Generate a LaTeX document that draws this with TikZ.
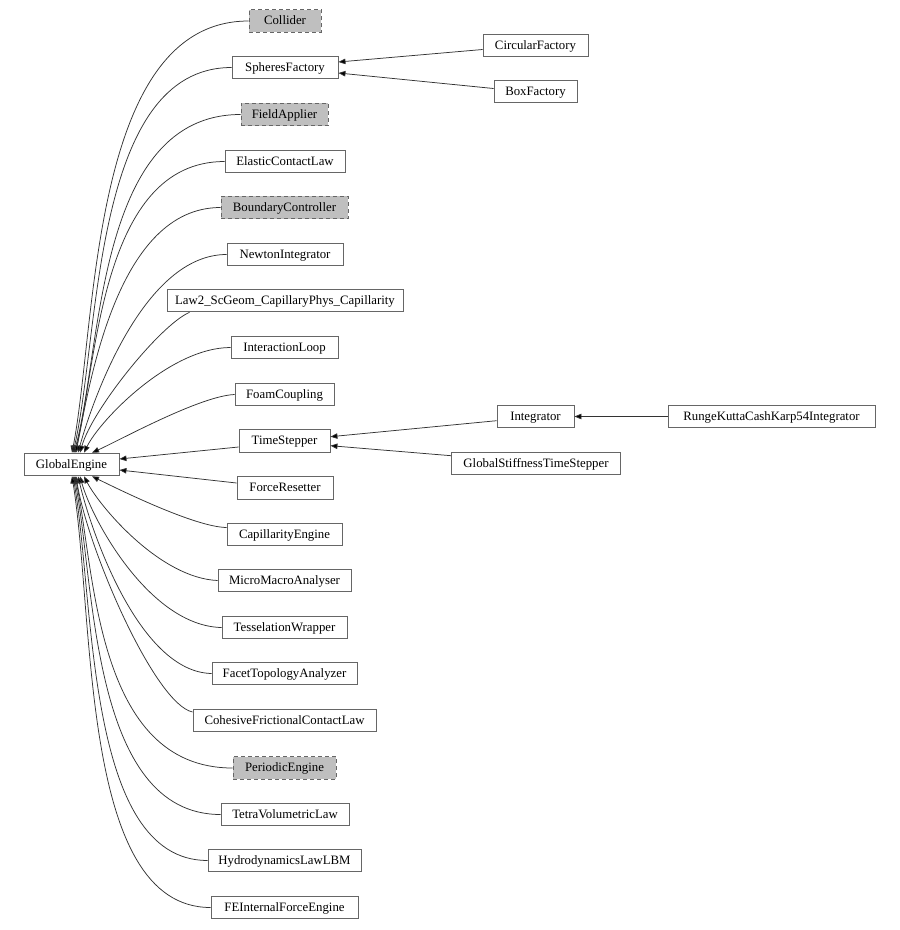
\documentclass[tikz,border=0pt]{standalone}
\usepackage{fontspec}
\setmainfont{Liberation Serif}
\usetikzlibrary{arrows.meta}
\definecolor{bordergray}{HTML}{666666}
\definecolor{fillgray}{HTML}{BFBFBF}
\definecolor{edgegray}{HTML}{333333}
\tikzset{
  cls/.style={draw=bordergray, line width=0.9pt, fill=white, minimum height=22.7pt,
    inner xsep=2pt, inner ysep=1pt, text height=8.4pt, text depth=0.6pt,
    font=\fontsize{12.8}{14}\selectfont, text=black},
  abs/.style={cls, fill=fillgray, dashed, dash pattern=on 4pt off 3pt},
  edge/.style={draw=edgegray, line width=0.75pt, -{Triangle[length=7pt,width=5.5pt,fill=black]}},
}
\begin{document}
\begin{tikzpicture}[x=1pt,y=-1pt]
\useasboundingbox (0,0) rectangle (900,930);
% nodes
\node[abs, minimum width=72pt] (col) at (285,21) {Collider};
\node[cls, minimum width=106pt] (sph) at (285,67.5) {SpheresFactory};
\node[abs, minimum width=87pt] (fa) at (284.5,114.5) {FieldApplier};
\node[cls, minimum width=120pt] (ecl) at (285,161.5) {ElasticContactLaw};
\node[abs, minimum width=127pt] (bc) at (284.5,207.5) {BoundaryController};
\node[cls, minimum width=116pt] (ni) at (285,254.5) {NewtonIntegrator};
\node[cls, minimum width=236pt] (law) at (285,300.5) {Law2\_ScGeom\_CapillaryPhys\_Capillarity};
\node[cls, minimum width=107pt] (il) at (284.5,347.5) {InteractionLoop};
\node[cls, minimum width=99pt] (fc) at (284.5,394.5) {FoamCoupling};
\node[cls, minimum width=91pt] (ts) at (284.5,441) {TimeStepper};
\node[cls, minimum width=96pt] (fr) at (285,488) {ForceResetter};
\node[cls, minimum width=115pt] (ce) at (284.5,534.5) {CapillarityEngine};
\node[cls, minimum width=133pt] (mma) at (284.5,580.5) {MicroMacroAnalyser};
\node[cls, minimum width=125pt] (tw) at (284.5,627.5) {TesselationWrapper};
\node[cls, minimum width=145pt] (fta) at (284.5,673.5) {FacetTopologyAnalyzer};
\node[cls, minimum width=183pt] (cfcl) at (284.5,720.5) {CohesiveFrictionalContactLaw};
\node[abs, minimum width=103pt] (pe) at (284.5,768) {PeriodicEngine};
\node[cls, minimum width=128pt] (tvl) at (285,814.5) {TetraVolumetricLaw};
\node[cls, minimum width=153pt] (hl) at (284.5,860.5) {HydrodynamicsLawLBM};
\node[cls, minimum width=147pt] (fe) at (284.5,907.5) {FEInternalForceEngine};
\node[cls, minimum width=95pt] (ge) at (71.5,464.5) {GlobalEngine};
\node[cls, minimum width=105pt] (circ) at (535.5,45.5) {CircularFactory};
\node[cls, minimum width=83pt] (boxf) at (535.5,91.5) {BoxFactory};
\node[cls, minimum width=77pt] (int) at (535.5,416.5) {Integrator};
\node[cls, minimum width=169pt] (gsts) at (536,463.5) {GlobalStiffnessTimeStepper};
\node[cls, minimum width=207pt] (rk) at (771.5,416.5) {RungeKuttaCashKarp54Integrator};
% straight edges
\draw[edge] ([yshift=-4pt]circ.west) -- ([yshift=5.5pt]sph.east);
\draw[edge] ([yshift=3pt]boxf.west) -- ([yshift=-5.5pt]sph.east);
\draw[edge] (rk.west) -- (int.east);
\draw[edge] ([yshift=-4.2pt]int.west) -- ([yshift=4.3pt]ts.east);
\draw[edge] ([yshift=7.8pt]gsts.west) -- ([yshift=-4.7pt]ts.east);
\draw[edge] ([yshift=-6pt]ts.west) -- ([yshift=5.5pt]ge.east);
\draw[edge] ([yshift=5pt]fr.west) -- ([yshift=-5.5pt]ge.east);
% curved edges to the top of GlobalEngine
\draw[edge] (col.west) .. controls (90,21) and (97,323) .. ([xshift=0.5pt]ge.north);
\draw[edge] (sph.west) .. controls (92,67.5) and (100,337) .. ([xshift=1.5pt]ge.north);
\draw[edge] (fa.west) .. controls (96,114.5) and (102,350) .. ([xshift=2.5pt]ge.north);
\draw[edge] (ecl.west) .. controls (100,161.5) and (97,365) .. ([xshift=3.5pt]ge.north);
\draw[edge] (bc.west) .. controls (118,207.5) and (90,380) .. ([xshift=4.5pt]ge.north);
\draw[edge] (ni.west) .. controls (145,254.5) and (94,395) .. ([xshift=6.5pt]ge.north);
\draw[edge] ([xshift=23pt]law.south west) .. controls (160,325) and (92,410) .. ([xshift=8.5pt]ge.north);
\draw[edge] (il.west) .. controls (170,347.5) and (100,420) .. ([xshift=12.5pt]ge.north);
\draw[edge] (fc.west) .. controls (200,396) and (120,440) .. ([xshift=20.5pt]ge.north);
% curved edges to the bottom of GlobalEngine
\draw[edge] ([yshift=7pt]ce.west) .. controls (195,527) and (120,490) .. ([xshift=20.5pt]ge.south);
\draw[edge] (mma.west) .. controls (160,578) and (100,507) .. ([xshift=12.5pt]ge.south);
\draw[edge] (tw.west) .. controls (150,626) and (92,520) .. ([xshift=8.5pt]ge.south);
\draw[edge] (fta.west) .. controls (140,672) and (92,535) .. ([xshift=6.5pt]ge.south);
\draw[edge] ([yshift=8.5pt]cfcl.west) .. controls (155,704) and (88,550) .. ([xshift=4.5pt]ge.south);
\draw[edge] (pe.west) .. controls (95,768) and (95,570) .. ([xshift=3.5pt]ge.south);
\draw[edge] (tvl.west) .. controls (90,814.5) and (95,580) .. ([xshift=2.5pt]ge.south);
\draw[edge] (hl.west) .. controls (85,860.5) and (95,600) .. ([xshift=1.5pt]ge.south);
\draw[edge] (fe.west) .. controls (80,907.5) and (95,620) .. ([xshift=0.5pt]ge.south);
\end{tikzpicture}
\end{document}
